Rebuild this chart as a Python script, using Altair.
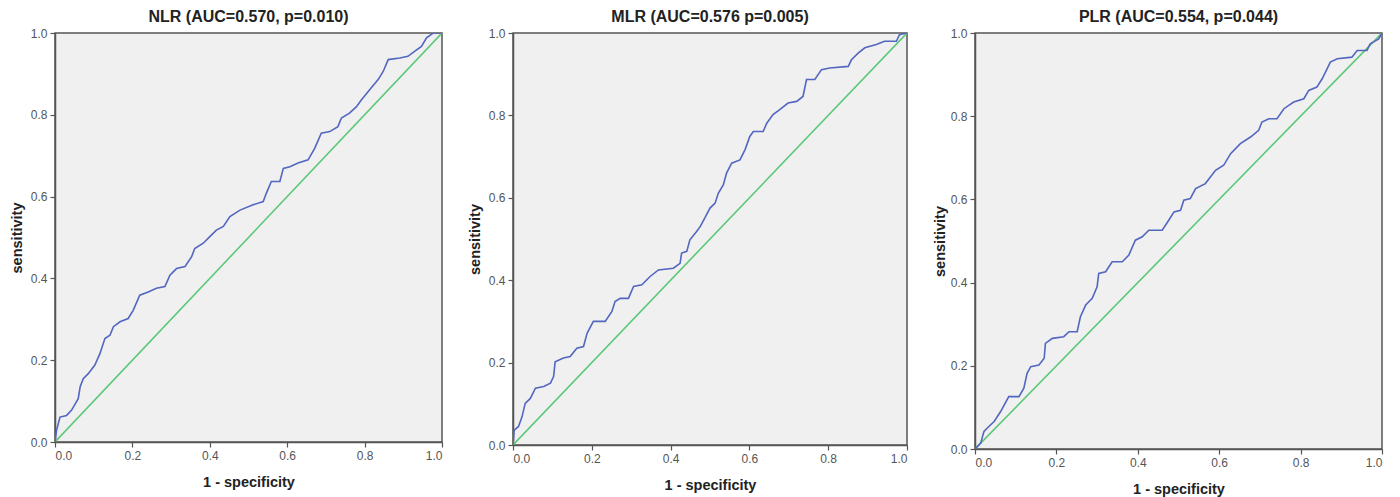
import altair as alt
import pandas as pd

# ---- data ----
nlr_x = [0, 0.004, 0.013, 0.030, 0.043, 0.060, 0.065, 0.073, 0.086, 0.103, 0.116, 0.129, 0.142, 0.151, 0.168,
         0.189, 0.202, 0.219, 0.241, 0.262, 0.284, 0.297, 0.314, 0.336, 0.353, 0.361, 0.383, 0.400, 0.417,
         0.435, 0.452, 0.478, 0.512, 0.538, 0.546, 0.559, 0.581, 0.590, 0.607, 0.628, 0.654, 0.671, 0.688,
         0.710, 0.731, 0.740, 0.761, 0.779, 0.792, 0.813, 0.835, 0.848, 0.861, 0.891, 0.912, 0.929, 0.947,
         0.960, 0.977, 1.0]
nlr_y = [0, 0.029, 0.061, 0.065, 0.078, 0.106, 0.135, 0.155, 0.167, 0.188, 0.216, 0.253, 0.261, 0.282, 0.294,
         0.302, 0.322, 0.359, 0.367, 0.376, 0.380, 0.408, 0.424, 0.429, 0.453, 0.473, 0.486, 0.502, 0.518,
         0.527, 0.551, 0.567, 0.580, 0.588, 0.608, 0.637, 0.637, 0.669, 0.673, 0.682, 0.690, 0.718, 0.755,
         0.759, 0.771, 0.792, 0.804, 0.820, 0.837, 0.861, 0.886, 0.906, 0.935, 0.939, 0.943, 0.955, 0.967,
         0.988, 1.0, 1.0]

mlr_x = [0, 0.003, 0.014, 0.023, 0.031, 0.044, 0.057, 0.078, 0.095, 0.103, 0.107, 0.128, 0.145, 0.162, 0.179,
         0.188, 0.204, 0.234, 0.251, 0.259, 0.272, 0.293, 0.306, 0.327, 0.348, 0.369, 0.407, 0.424, 0.428,
         0.441, 0.449, 0.466, 0.475, 0.487, 0.500, 0.513, 0.521, 0.534, 0.542, 0.555, 0.576, 0.589, 0.601,
         0.610, 0.635, 0.644, 0.660, 0.677, 0.698, 0.720, 0.736, 0.745, 0.766, 0.783, 0.804, 0.851, 0.859,
         0.876, 0.893, 0.922, 0.943, 0.973, 0.981, 1.0]
mlr_y = [0, 0.036, 0.045, 0.069, 0.101, 0.113, 0.138, 0.142, 0.150, 0.166, 0.202, 0.211, 0.215, 0.235, 0.239,
         0.271, 0.300, 0.300, 0.324, 0.348, 0.356, 0.356, 0.385, 0.389, 0.409, 0.425, 0.429, 0.441, 0.466,
         0.470, 0.498, 0.518, 0.530, 0.551, 0.575, 0.587, 0.611, 0.632, 0.660, 0.684, 0.692, 0.717, 0.749,
         0.761, 0.761, 0.781, 0.802, 0.814, 0.830, 0.834, 0.846, 0.887, 0.887, 0.911, 0.915, 0.919, 0.935,
         0.951, 0.964, 0.972, 0.980, 0.980, 0.996, 1.0]

plr_x = [0, 0.014, 0.022, 0.034, 0.047, 0.063, 0.083, 0.108, 0.120, 0.128, 0.137, 0.157, 0.170, 0.173, 0.190,
         0.218, 0.231, 0.251, 0.259, 0.272, 0.288, 0.300, 0.304, 0.321, 0.337, 0.362, 0.378, 0.394, 0.411,
         0.427, 0.460, 0.476, 0.489, 0.505, 0.513, 0.529, 0.542, 0.566, 0.591, 0.611, 0.628, 0.652, 0.677,
         0.697, 0.705, 0.722, 0.742, 0.759, 0.783, 0.808, 0.820, 0.840, 0.853, 0.865, 0.873, 0.890, 0.926,
         0.939, 0.963, 0.971, 0.992, 1.0]
plr_y = [0, 0.014, 0.042, 0.054, 0.066, 0.090, 0.126, 0.126, 0.146, 0.182, 0.198, 0.202, 0.218, 0.254, 0.266,
         0.270, 0.282, 0.282, 0.318, 0.346, 0.362, 0.390, 0.422, 0.426, 0.450, 0.450, 0.466, 0.502, 0.510,
         0.526, 0.526, 0.550, 0.570, 0.574, 0.598, 0.602, 0.626, 0.638, 0.670, 0.682, 0.710, 0.734, 0.750,
         0.766, 0.786, 0.794, 0.794, 0.818, 0.834, 0.842, 0.862, 0.870, 0.890, 0.914, 0.930, 0.938, 0.942,
         0.958, 0.958, 0.974, 0.986, 1.0]

titles = ["NLR (AUC=0.570, p=0.010)", "MLR (AUC=0.576 p=0.005)", "PLR (AUC=0.554, p=0.044)"]
sizes = [(387, 409), (394, 412), (407, 416)]
ytitle_pad = [6, 6, 3]
ref_x = [0.0, 1.0]
ref_y = [0.0, 1.0]
ticks = [0.0, 0.2, 0.4, 0.6, 0.8, 1.0]

BLUE = "#5366c0"
GREEN = "#5cc878"
FONT = "Liberation Sans"


def panel(xs, ys, title, w, h, ypad):
    roc = pd.DataFrame({"x": xs, "y": ys, "i": range(len(xs))})
    ref = pd.DataFrame({"x": ref_x, "y": ref_y})
    xenc = alt.X("x:Q", scale=alt.Scale(domain=[0, 1], nice=False),
                 axis=alt.Axis(title="1 - specificity", values=ticks, format=".1f", grid=False))
    yenc = alt.Y("y:Q", scale=alt.Scale(domain=[0, 1], nice=False),
                 axis=alt.Axis(title="sensitivity", values=ticks, format=".1f", grid=False,
                               titlePadding=ypad))
    diag = alt.Chart(ref).mark_line(color=GREEN, strokeWidth=1.6, clip=True).encode(x=xenc, y=yenc)
    curve = alt.Chart(roc).mark_line(color=BLUE, strokeWidth=1.6, clip=True).encode(
        x=xenc, y=yenc, order="i:Q")
    return alt.layer(diag, curve).properties(
        width=w, height=h,
        title=alt.TitleParams(title, fontSize=16, fontWeight="bold", font=FONT, color="#222", offset=2))


charts = [panel(nlr_x, nlr_y, titles[0], *sizes[0], ytitle_pad[0]),
          panel(mlr_x, mlr_y, titles[1], *sizes[1], ytitle_pad[1]),
          panel(plr_x, plr_y, titles[2], *sizes[2], ytitle_pad[2])]

chart = alt.hconcat(*charts, spacing=22, padding=0).configure_view(
    fill="#f0f0f0", stroke="#555555", strokeWidth=1.5
).configure_axis(
    domainColor="#555555", domainWidth=1.5, tickColor="#555555", tickSize=5, tickWidth=1.2,
    labelFont=FONT, labelFontSize=12, labelColor="#555555", labelPadding=3,
    titleFont=FONT, titleFontSize=14.5, titleFontWeight="bold", titleColor="#222222",
).configure_axisX(titlePadding=14)

chart.save("out.html", embed_options={"renderer": "svg", "actions": False})
